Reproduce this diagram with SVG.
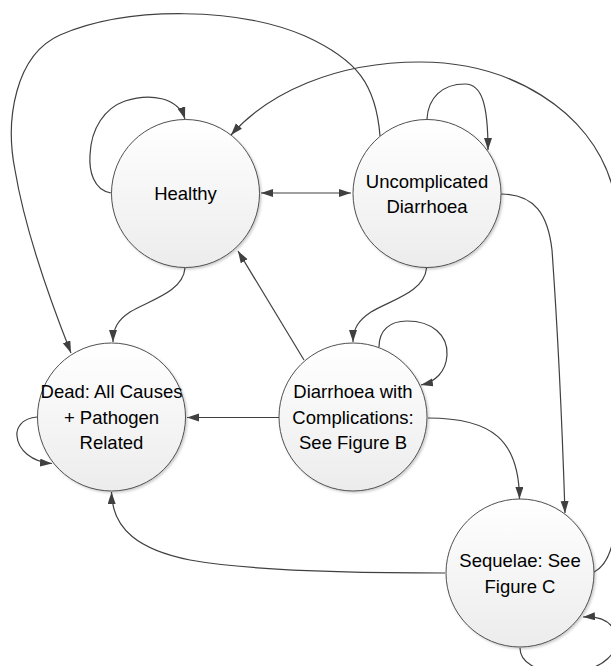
<svg xmlns="http://www.w3.org/2000/svg" width="611" height="666" viewBox="0 0 611 666">
<style>
.node circle{fill:url(#g);stroke:#505050;stroke-width:1;filter:url(#sh)}
.node text{font-family:"Liberation Sans",Arial,sans-serif;font-size:18.5px;fill:#000;text-anchor:middle}
.c path{fill:none;stroke:#404040;stroke-width:1.2;marker-end:url(#a)}
</style>
<defs>
<linearGradient id="g" x1="0" y1="0" x2="0" y2="1">
<stop offset="0" stop-color="#ffffff"/>
<stop offset="1" stop-color="#ececec"/>
</linearGradient>
<filter id="sh" x="-20%" y="-20%" width="150%" height="150%">
<feDropShadow dx="1.5" dy="1.5" stdDeviation="1.2" flood-color="#000" flood-opacity="0.2"/>
</filter>
<marker id="a" markerUnits="userSpaceOnUse" markerWidth="13" markerHeight="9" refX="12" refY="4" orient="auto-start-reverse">
<path d="M0,0 L12,4 L0,8 z" fill="#404040"/>
</marker>
</defs>
<g class="c" id="connectors">
<path d="M111,193 C93,190 89,170 90,155 C91,128 105,108 125,101 C150,93 178,97 185,119"/>
<path d="M427,119 C428,98 442,84 465,84 C482,84 488,105 488,150"/>
<path d="M261,193 L351,193" marker-start="url(#a)"/>
<path d="M380,136 C376,85 358,60 305,36 C240,8 130,5 60,35 C15,55 5,120 15,170 C25,230 50,300 71,353"/>
<path d="M594,572 C602,568 608,560 612,545 C625,480 625,250 612,185 C590,110 510,62 420,62 C335,62 268,93 231,135"/>
<path d="M185,268 C183,292 150,300 130,312 C118,320 113,328 113,342"/>
<path d="M426.5,268 C424.5,292 391,300 371,312 C359,320 353,328 353,342"/>
<path d="M501,194 C535,194 548,215 552,250 C557,320 562,420 565,513"/>
<path d="M304,360 L238,251"/>
<path d="M379,347 C379,330 390,321 407,321 C432,321 448,335 447,355 C446,372 435,382 421,385"/>
<path d="M279,417.5 L187,417.5"/>
<path d="M428,418 C492,418 519,440 519.5,499"/>
<path d="M445,573 C360,573 250,571 190,560 C140,550 112,530 111.5,492"/>
<path d="M37,417 C22,418 16,428 17,436 C18,450 32,462 52,463.5"/>
<path d="M520,648 C520,662 535,672 565,672 C605,672 622,650 615,632 C610,620 598,616 583,617"/>
</g>
<g class="node" id="healthy">
<circle cx="185.5" cy="193.5" r="74"/>
<text x="185.5" y="200">Healthy</text>
</g>
<g class="node" id="uncomplicated">
<circle cx="427" cy="193.5" r="74"/>
<text x="427" y="188">Uncomplicated</text>
<text x="427" y="212.5">Diarrhoea</text>
</g>
<g class="node" id="dead">
<circle cx="111.5" cy="417" r="74"/>
<text x="111.5" y="397.5">Dead: All Causes</text>
<text x="111.5" y="423.5">+ Pathogen</text>
<text x="111.5" y="449">Related</text>
</g>
<g class="node" id="complications">
<circle cx="353" cy="417" r="74"/>
<text x="353" y="397.5">Diarrhoea with</text>
<text x="353" y="423.5">Complications:</text>
<text x="353" y="449">See Figure B</text>
</g>
<g class="node" id="sequelae">
<circle cx="520" cy="573" r="74"/>
<text x="520" y="566.5">Sequelae: See</text>
<text x="520" y="592.5">Figure C</text>
</g>
</svg>
